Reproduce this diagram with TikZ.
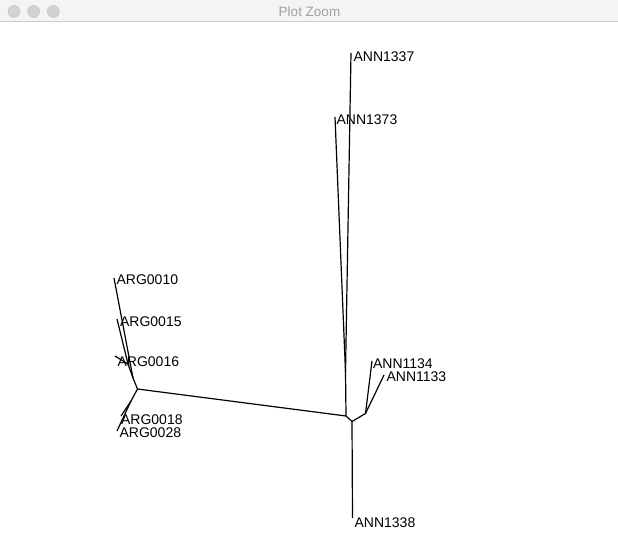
\documentclass[tikz,border=0pt]{standalone}
\usepackage{fontspec}
\setmainfont{Liberation Sans}
\definecolor{barfill}{RGB}{244,244,244}
\definecolor{barline}{RGB}{205,205,205}
\definecolor{dotfill}{RGB}{210,210,210}
\definecolor{dotline}{RGB}{196,196,196}
\definecolor{titlegray}{RGB}{160,160,160}
\begin{document}
\begin{tikzpicture}[x=1bp,y=-1bp,line width=1.2bp,
  every node/.style={inner sep=0pt, anchor=base west, font=\fontsize{14bp}{16bp}\selectfont}]
\useasboundingbox (0,0) rectangle (618,556);
\fill[white] (0,0) rectangle (618,556);
% window bar
\fill[barfill] (0,0) rectangle (618,21);
\draw[barline, line width=0.8bp] (0,21) -- (618,21);
\foreach \x in {14,33.7,53.3} \filldraw[fill=dotfill, draw=dotline, line width=0.5bp] (\x,11.5) circle (6);
\node[anchor=base, text=titlegray, font=\fontsize{13.5bp}{15bp}\selectfont] (W1) at (309.5,16.5) {Plot Zoom};
% inner nodes
\coordinate (G1N0) at (137.5,389);
\coordinate (G1N1) at (133,378);
\coordinate (G1N2) at (128,364);
\coordinate (G1N3) at (131,401);
\coordinate (G1N4) at (346,416);
\coordinate (G1N5) at (352,421.5);
\coordinate (G1N6) at (365.5,413.5);
\coordinate (G1N7) at (345.5,372);
% tips
\coordinate (G1T1) at (351,53);
\coordinate (G1T2) at (335,117);
\coordinate (G1T3) at (114,278);
\coordinate (G1T4) at (117,319);
\coordinate (G1T5) at (115,356);
\coordinate (G1T6) at (121,416);
\coordinate (G1T7) at (117,431);
\coordinate (G1T8) at (372,361);
\coordinate (G1T9) at (384,375);
\coordinate (G1T10) at (352.5,518);
% tip labels
\node (G1L1) at (353,61.5) {ANN1337};
\node (G1L2) at (336,124.5) {ANN1373};
\node (G1L3) at (116,284) {ARG0010};
\node (G1L4) at (119.5,326) {ARG0015};
\node (G1L5) at (117,366) {ARG0016};
\node (G1L6) at (120.5,424) {ARG0018};
\node (G1L7) at (119,437) {ARG0028};
\node (G1L8) at (372.5,368.5) {ANN1134};
\node (G1L9) at (386,381) {ANN1133};
\node (G1L10) at (354,527) {ANN1338};
% edges
\draw (G1N0) -- (G1N1);
\draw (G1N1) -- (G1T3);
\draw (G1N1) -- (G1N2);
\draw (G1N2) -- (G1T4);
\draw (G1N2) -- (G1T5);
\draw (G1N0) -- (G1N3);
\draw (G1N3) -- (G1T6);
\draw (G1N3) -- (G1T7);
\draw (G1N0) -- (G1N4);
\draw (G1N4) -- (G1N7);
\draw (G1N7) -- (G1T2);
\draw (G1N7) -- (G1T1);
\draw (G1N4) -- (G1N5);
\draw (G1N5) -- (G1N6);
\draw (G1N6) -- (G1T8);
\draw (G1N6) -- (G1T9);
\draw (G1N5) -- (G1T10);
\end{tikzpicture}
\end{document}
